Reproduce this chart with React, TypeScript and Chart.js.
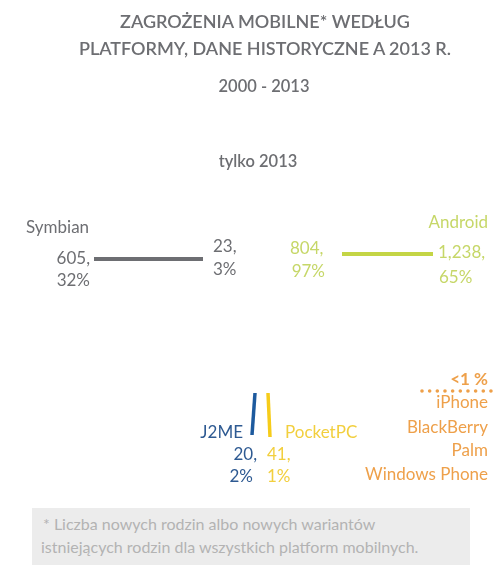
import React, { useEffect, useRef } from "react";
import { Chart, registerables } from "chart.js";

Chart.register(...registerables);

// ---- data ----
const titleLines = ["ZAGROŻENIA MOBILNE* WEDŁUG", "PLATFORMY, DANE HISTORYCZNE A 2013 R."];
const periodAll = "2000 - 2013";
const periodYear = "tylko 2013";

const mainPlatforms = ["Symbian", "Android"];
const countsAll = [605, 1238];
const sharesAll = [32, 65];
const counts2013 = [23, 804];
const shares2013 = [3, 97];

const otherPlatforms = ["J2ME", "PocketPC"];
const otherCounts = [20, 41];
const otherShares = [2, 1];

const minorShareLabel = "<1 %";
const minorPlatforms = ["iPhone", "BlackBerry", "Palm", "Windows Phone"];

const footnote = [
  "* Liczba nowych rodzin albo nowych wariantów",
  "istniejących rodzin dla wszystkich platform mobilnych.",
];

// ---- styles / layout (axis units on a 500 x 574 layout grid) ----
const GRAY = "#6d6e72";
const GREEN = "#c4d545";
const GREEN_TXT = "#c6d768";
const BLUE = "#1d5a9e";
const BLUE_TXT = "#2e5a92";
const YELLOW = "#f6cc1a";
const YELLOW_TXT = "#f2cf3e";
const ORANGE = "#eea04a";

const fmt = (n: number) => n.toLocaleString("en-US");

type Lbl = { t: string; x: number; y: number; a: CanvasTextAlign; c: string; w?: string };

function buildLabels(): Lbl[] {
  const L: Lbl[] = [];
  // Symbian
  L.push({ t: mainPlatforms[0], x: 26, y: 228, a: "left", c: GRAY });
  L.push({ t: fmt(countsAll[0]) + ",", x: 90, y: 259, a: "right", c: GRAY });
  L.push({ t: sharesAll[0] + "%", x: 90, y: 281, a: "right", c: GRAY });
  L.push({ t: fmt(counts2013[0]) + ",", x: 213, y: 247, a: "left", c: GRAY });
  L.push({ t: shares2013[0] + "%", x: 213, y: 270, a: "left", c: GRAY });
  // Android
  L.push({ t: mainPlatforms[1], x: 488, y: 223, a: "right", c: GREEN_TXT });
  L.push({ t: fmt(counts2013[1]) + ",", x: 290, y: 249, a: "left", c: GREEN_TXT });
  L.push({ t: shares2013[1] + "%", x: 325, y: 272, a: "right", c: GREEN_TXT });
  L.push({ t: fmt(countsAll[1]) + ",", x: 438, y: 253, a: "left", c: GREEN_TXT });
  L.push({ t: sharesAll[1] + "%", x: 439, y: 278, a: "left", c: GREEN_TXT });
  // J2ME
  L.push({ t: otherPlatforms[0], x: 243, y: 433, a: "right", c: BLUE_TXT });
  L.push({ t: fmt(otherCounts[0]) + ",", x: 257, y: 455, a: "right", c: BLUE_TXT });
  L.push({ t: otherShares[0] + "%", x: 253, y: 477, a: "right", c: BLUE_TXT });
  // PocketPC
  L.push({ t: otherPlatforms[1], x: 285, y: 433, a: "left", c: YELLOW_TXT });
  L.push({ t: fmt(otherCounts[1]) + ",", x: 267, y: 455, a: "left", c: YELLOW_TXT });
  L.push({ t: otherShares[1] + "%", x: 267, y: 477, a: "left", c: YELLOW_TXT });
  // minor
  L.push({ t: minorShareLabel, x: 488, y: 380, a: "right", c: ORANGE, w: "700" });
  const ys = [403, 428, 451, 475];
  minorPlatforms.forEach((p, i) => L.push({ t: p, x: 488, y: ys[i], a: "right", c: ORANGE }));
  return L;
}

const labelPlugin = {
  id: "infoLabels",
  afterDatasetsDraw(chart: any) {
    const { ctx, scales } = chart;
    ctx.save();
    ctx.textBaseline = "middle";
    for (const l of buildLabels()) {
      ctx.font = `${l.w || "400"} 17px Lato, "Open Sans", sans-serif`;
      ctx.fillStyle = l.c;
      ctx.textAlign = l.a;
      ctx.fillText(l.t, scales.x.getPixelForValue(l.x), scales.y.getPixelForValue(l.y));
    }
    ctx.restore();
  },
};

export default function App() {
  const ref = useRef<HTMLCanvasElement>(null);

  useEffect(() => {
    if (!ref.current) return;
    const seg = (pts: { x: number; y: number }[], color: string, w: number, extra: any = {}) => ({
      data: pts,
      showLine: true,
      borderColor: color,
      backgroundColor: color,
      borderWidth: w,
      pointRadius: 0,
      borderCapStyle: "butt",
      ...extra,
    });
    const chart = new Chart(ref.current, {
      type: "scatter",
      data: {
        datasets: [
          seg([{ x: 94, y: 259 }, { x: 203, y: 259 }], GRAY, 4),
          seg([{ x: 342, y: 254 }, { x: 433, y: 254 }], GREEN, 4),
          seg([{ x: 255, y: 393 }, { x: 252, y: 435 }], BLUE, 3.5),
          seg([{ x: 268, y: 393 }, { x: 270, y: 437 }], YELLOW, 3.5),
          seg([{ x: 422, y: 391 }, { x: 491, y: 391 }], ORANGE, 3.6, {
            borderDash: [0.01, 7.65],
            borderCapStyle: "round",
          }),
        ] as any,
      },
      options: {
        animation: false,
        responsive: false,
        maintainAspectRatio: false,
        layout: { padding: 0 },
        plugins: { legend: { display: false }, tooltip: { enabled: false }, title: { display: false } },
        scales: {
          x: { type: "linear", min: 0, max: 500, display: false },
          y: { type: "linear", min: 0, max: 574, reverse: true, display: false },
        },
      } as any,
      plugins: [labelPlugin],
    });
    return () => chart.destroy();
  }, []);

  const center = (cx: number, top: number, size: number, weight: number, text: string) => (
    <div
      style={{
        position: "absolute",
        left: cx - 250,
        width: 500,
        top: top - 12,
        height: 24,
        lineHeight: "24px",
        textAlign: "center",
        fontSize: size,
        fontWeight: weight,
        color: GRAY,
        whiteSpace: "nowrap",
      }}
    >
      {text}
    </div>
  );

  return (
    <div
      style={{
        position: "absolute",
        left: 0,
        top: 0,
        width: 500,
        height: 574,
        background: "#fff",
        fontFamily: "Lato, 'Open Sans', sans-serif",
        overflow: "hidden",
      }}
    >
      <canvas ref={ref} width={500} height={574} style={{ position: "absolute", left: 0, top: 0 }} />
      {center(265, 21, 18, 600, titleLines[0])}
      {center(265, 48, 18, 600, titleLines[1])}
      {center(264, 86, 16.5, 600, periodAll)}
      {center(258, 161, 16.5, 600, periodYear)}
      <div
        style={{
          position: "absolute",
          left: 32,
          top: 508,
          width: 438,
          height: 57,
          background: "#ececec",
          color: "#b3b3b3",
          fontSize: 16,
          lineHeight: "23px",
          boxSizing: "border-box",
          padding: "4px 0 0 9px",
          whiteSpace: "nowrap",
        }}
      >
        <div style={{ paddingLeft: 2 }}>{footnote[0]}</div>
        <div>{footnote[1]}</div>
      </div>
    </div>
  );
}
